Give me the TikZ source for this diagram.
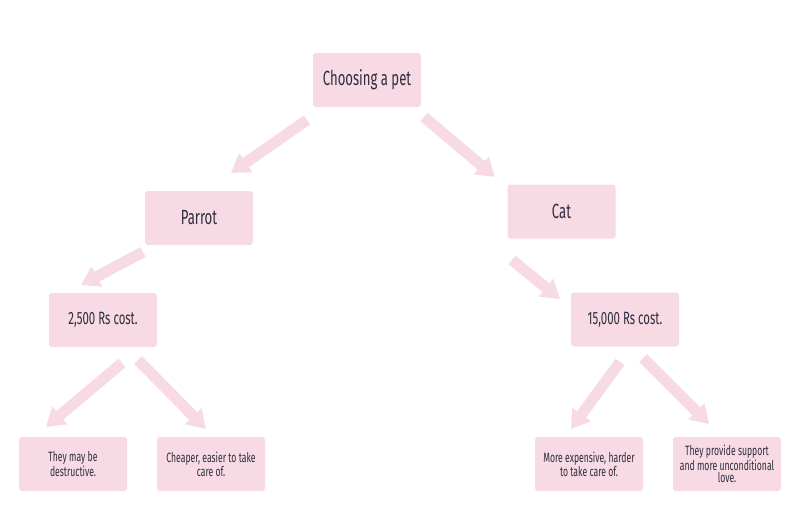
\documentclass[tikz,border=0pt]{standalone}
\usepackage{fontspec}
\setmainfont[FakeStretch=0.64]{Fira Sans}
\usetikzlibrary{arrows.meta}
\definecolor{boxpink}{HTML}{F8DAE4}
\definecolor{txt}{HTML}{2E2E3E}
\tikzset{
  pbox/.style={fill=boxpink, rounded corners=3pt, minimum width=108pt, minimum height=54pt, inner sep=0pt, text=txt, align=center},
  bigtxt/.style={font=\fontsize{20.5}{22}\selectfont},
  midtxt/.style={font=\fontsize{17.8}{20}\selectfont},
  smalltxt/.style={font=\fontsize{13.5}{12.4}\selectfont},
  fatarrow/.style={draw=boxpink, line width=11pt, -{Triangle[width=22pt,length=18pt]}, fill=boxpink}
}
\begin{document}
\begin{tikzpicture}[x=1pt,y=-1pt]
\useasboundingbox (0,0) rectangle (803,514);
\node[pbox,bigtxt] (choose) at (367,80) {Choosing a pet};
\node[pbox,bigtxt] (parrot) at (199,218) {Parrot};
\node[pbox,bigtxt] (cat) at (561.5,211.5) {Cat};
\node[pbox,midtxt] (pcost) at (103,320) {2,500 Rs cost.};
\node[pbox,midtxt] (ccost) at (625,319.5) {15,000 Rs cost.};
\node[pbox,smalltxt] (destr) at (73,464) {They may be\\destructive.};
\node[pbox,smalltxt] (cheap) at (211,464) {Cheaper, easier to take\\care of.};
\node[pbox,smalltxt] (moreexp) at (589,464) {More expensive, harder\\to take care of.};
\node[pbox,smalltxt] (support) at (727,464) {They provide support\\and more unconditional\\love.};
% arrow end points
\coordinate (a1s) at (307,120); \coordinate (a1e) at (231,173);
\coordinate (a2s) at (424,117); \coordinate (a2e) at (495,177);
\coordinate (a3s) at (143,252); \coordinate (a3e) at (81,285);
\coordinate (a4s) at (512,260); \coordinate (a4e) at (560,299);
\coordinate (a5s) at (122,363); \coordinate (a5e) at (46,427);
\coordinate (a6s) at (138,360); \coordinate (a6e) at (206,429);
\coordinate (a7s) at (620,362); \coordinate (a7e) at (571,429);
\coordinate (a8s) at (643,358); \coordinate (a8e) at (709,424);
\foreach \i in {1,...,8} \draw[fatarrow] (a\i s) -- (a\i e);
\end{tikzpicture}
\end{document}
